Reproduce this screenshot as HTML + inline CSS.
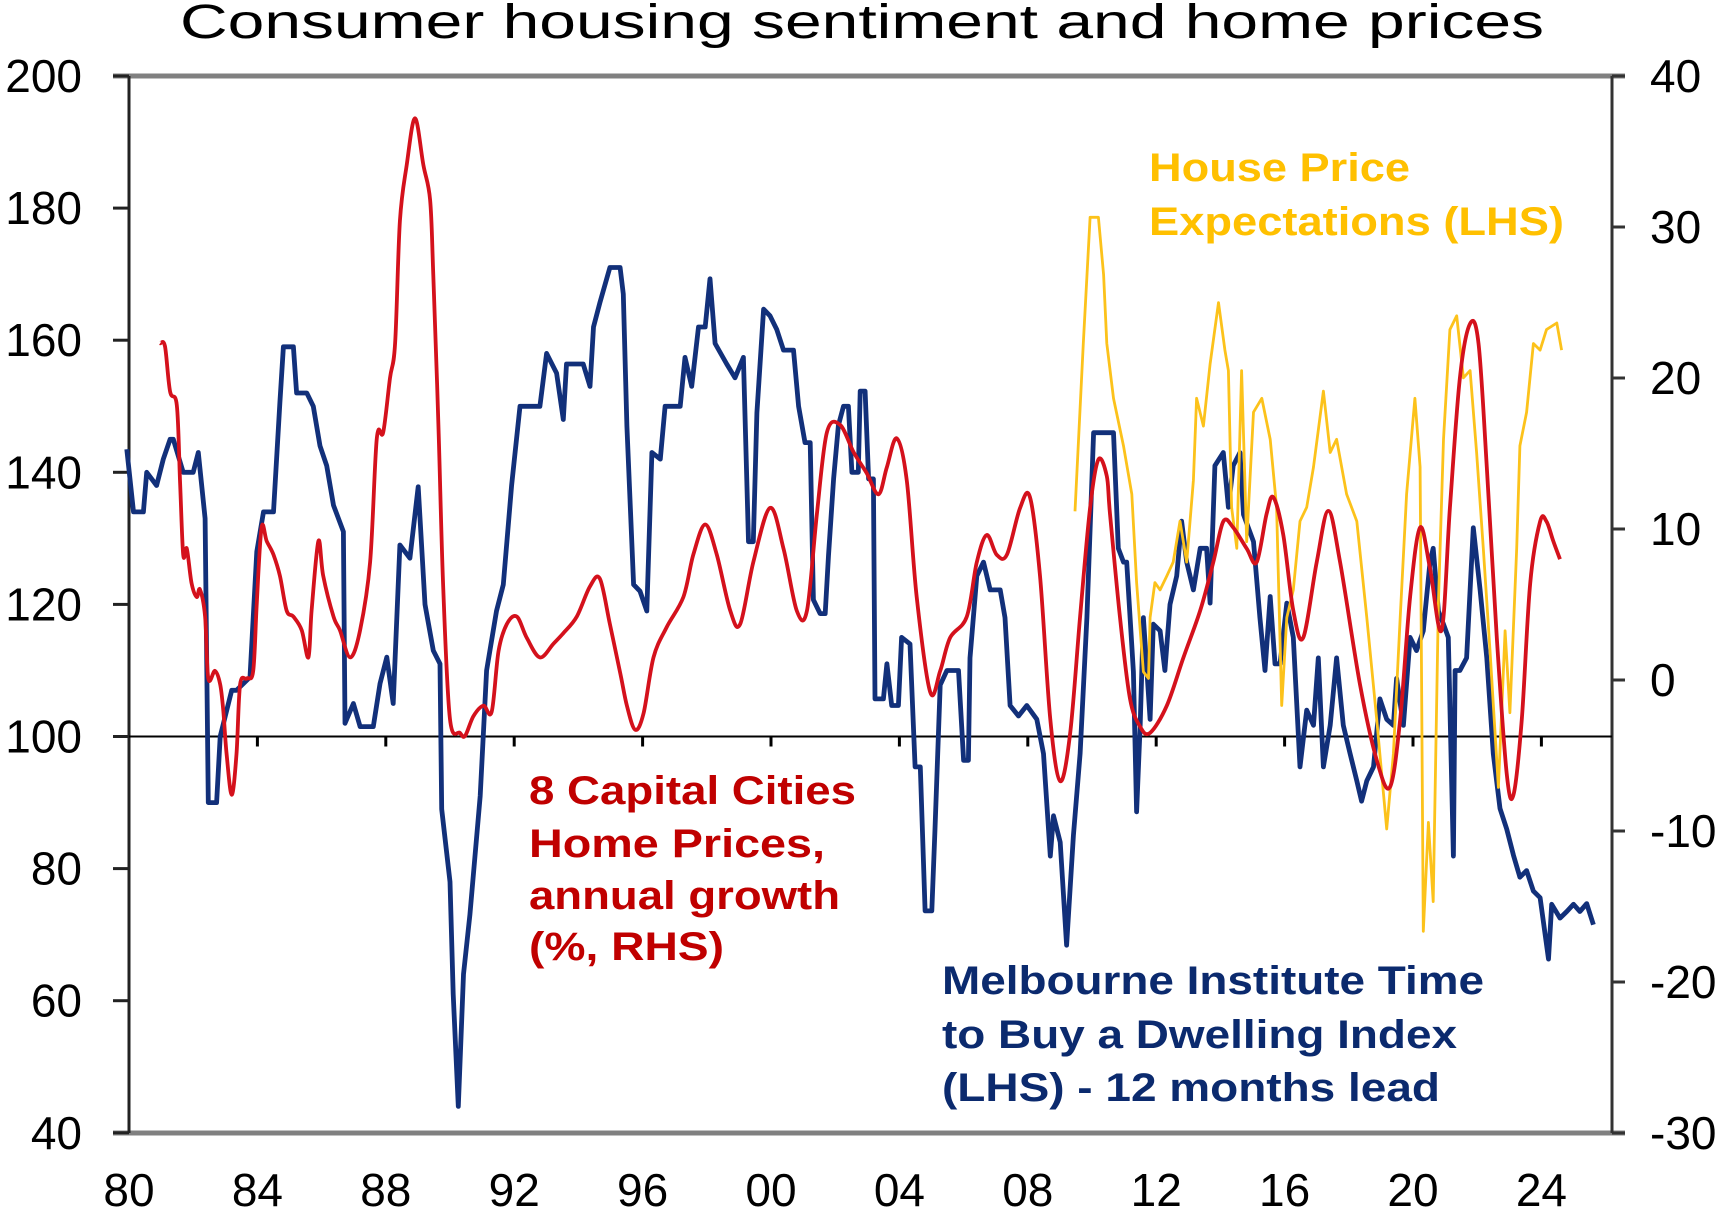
<!DOCTYPE html>
<html>
<head>
<meta charset="utf-8">
<style>
html,body{margin:0;padding:0;background:#fff;}
svg{display:block;font-family:"Liberation Sans",Arial,sans-serif;}
</style>
</head>
<body>
<svg id="chart" width="1721" height="1218" viewBox="0 0 1721 1218" xmlns="http://www.w3.org/2000/svg">
  <rect x="0" y="0" width="1721" height="1218" fill="#fff"/>
  <text x="862" y="38" text-anchor="middle" font-size="48" textLength="1364" lengthAdjust="spacingAndGlyphs" fill="#000">Consumer housing sentiment and home prices</text>
  <g id="axes"></g>
  <g id="series"></g>
  <g id="labels">
    <text x="529" y="804" font-size="40" font-weight="bold" fill="#c00000" textLength="327" lengthAdjust="spacingAndGlyphs">8 Capital Cities</text>
    <text x="529" y="857" font-size="40" font-weight="bold" fill="#c00000" textLength="296" lengthAdjust="spacingAndGlyphs">Home Prices,</text>
    <text x="529" y="909" font-size="40" font-weight="bold" fill="#c00000" textLength="311" lengthAdjust="spacingAndGlyphs">annual growth</text>
    <text x="529" y="960" font-size="40" font-weight="bold" fill="#c00000" textLength="195" lengthAdjust="spacingAndGlyphs">(%, RHS)</text>
    <text x="1149" y="181" font-size="40" font-weight="bold" fill="#ffc000" textLength="261" lengthAdjust="spacingAndGlyphs">House Price</text>
    <text x="1149" y="235" font-size="40" font-weight="bold" fill="#ffc000" textLength="415" lengthAdjust="spacingAndGlyphs">Expectations (LHS)</text>
    <text x="942" y="994" font-size="40" font-weight="bold" fill="#0b2a6e" textLength="542" lengthAdjust="spacingAndGlyphs">Melbourne Institute Time</text>
    <text x="942" y="1048" font-size="40" font-weight="bold" fill="#0b2a6e" textLength="515" lengthAdjust="spacingAndGlyphs">to Buy a Dwelling Index</text>
    <text x="942" y="1101" font-size="40" font-weight="bold" fill="#0b2a6e" textLength="498" lengthAdjust="spacingAndGlyphs">(LHS) - 12 months lead</text>
  </g>
</svg>
<script>
// ---- data ----
const leftTicks = [200,180,160,140,120,100,80,60,40];
const rightTicks = [40,30,20,10,0,-10,-20,-30];
const xTickYears = [1980,1984,1988,1992,1996,2000,2004,2008,2012,2016,2020,2024];
const xTickLabels = ["80","84","88","92","96","00","04","08","12","16","20","24"];

const blueYears = [1979.93,1980.14,1980.45,1980.55,1980.86,1981.07,1981.28,1981.38,1981.69,1982.0,1982.16,1982.37,1982.47,1982.73,1982.84,1983.2,1983.35,1983.77,1983.98,1984.19,1984.5,1984.7,1984.81,1985.12,1985.22,1985.54,1985.74,1985.95,1986.16,1986.37,1986.68,1986.73,1986.99,1987.2,1987.61,1987.82,1988.03,1988.23,1988.44,1988.75,1989.01,1989.22,1989.48,1989.69,1989.74,1990.0,1990.1,1990.26,1990.42,1990.62,1990.94,1991.14,1991.45,1991.66,1991.92,1992.18,1992.8,1993.01,1993.32,1993.53,1993.63,1994.15,1994.36,1994.47,1994.67,1994.98,1995.3,1995.4,1995.51,1995.72,1995.92,1996.13,1996.29,1996.55,1996.7,1997.17,1997.32,1997.53,1997.74,1997.95,1998.1,1998.26,1998.62,1998.88,1999.14,1999.3,1999.45,1999.56,1999.77,1999.97,2000.18,2000.39,2000.7,2000.86,2001.06,2001.22,2001.32,2001.53,2001.69,2001.79,2001.95,2002.1,2002.26,2002.41,2002.52,2002.72,2002.78,2002.93,2003.04,2003.19,2003.24,2003.5,2003.61,2003.76,2003.97,2004.07,2004.33,2004.49,2004.65,2004.8,2005.01,2005.11,2005.27,2005.48,2005.84,2006.0,2006.15,2006.2,2006.41,2006.62,2006.83,2007.14,2007.29,2007.45,2007.71,2007.97,2008.28,2008.49,2008.7,2008.8,2009.01,2009.21,2009.42,2009.63,2009.84,2010.05,2010.46,2010.67,2010.82,2010.98,2011.08,2011.29,2011.39,2011.5,2011.6,2011.81,2011.91,2012.12,2012.27,2012.43,2012.64,2012.79,2012.95,2013.16,2013.37,2013.57,2013.68,2013.83,2014.09,2014.25,2014.4,2014.61,2014.72,2015.03,2015.23,2015.39,2015.55,2015.7,2015.86,2016.07,2016.27,2016.48,2016.69,2016.9,2017.05,2017.21,2017.42,2017.62,2017.83,2018.04,2018.25,2018.4,2018.56,2018.77,2018.97,2019.18,2019.39,2019.49,2019.7,2019.91,2020.11,2020.32,2020.53,2020.63,2020.79,2020.95,2021.1,2021.26,2021.31,2021.46,2021.67,2021.88,2022.09,2022.3,2022.5,2022.71,2022.92,2023.13,2023.33,2023.54,2023.75,2023.96,2024.22,2024.32,2024.58,2024.79,2025.0,2025.2,2025.41,2025.62];
const blueValues = [143.5,134,134,140,138,142,145,145,140,140,143,133,90,90,100,107,107,109,128,134,134,150.6,159,159,152,152,150,144,141,135,131,102,105,101.5,101.5,108,112,105,129,127,137.8,120,113,111,89,78,61,44,64,73,91,110,119,123,138,150,150,158,155,148,156.4,156.4,153,162,165.7,171,171,167,147,123,122,119,143,142,150,150,157.4,153,162,162,169.3,159.5,156.4,154.3,157.4,129.5,129.5,149,164.7,163.7,161.6,158.5,158.5,150,144.5,144.5,120.7,118.6,118.6,127.4,139,147.1,150,150,140,140,152.3,152.3,139,139,105.7,105.7,111,104.7,104.7,115,114,95.4,95.4,73.6,73.6,86,107.8,110,110,96.4,96.4,111.9,124.3,126.4,122.2,122.2,118,104.7,103.1,104.7,102.6,97.4,81.9,88,84,68.4,85,97.4,118,146,146,146,128.5,126.4,126.4,109.8,88.6,101.8,118,102.6,117,116,110,120,124.3,132.6,126.4,122.2,128.5,128.5,120.2,141,143,134.7,141,143,133.6,129.5,118,110,121.2,111,111,120.2,115,95.4,104,101.7,111.9,95.4,101.7,111.9,101.7,97.4,93.3,90.2,93.3,95.4,105.7,102.6,101.7,108.8,101.7,115,113,116,126.4,128.5,119,117,115,81.9,110,110,111.9,131.6,122.2,111.9,97.4,89.1,86,82,78.7,79.7,76.6,75.6,66.3,74.6,72.5,73.5,74.6,73.5,74.7,71.5];

const redYears = [1980.97,1981.12,1981.28,1981.49,1981.59,1981.69,1981.8,1981.95,1982.11,1982.21,1982.37,1982.47,1982.68,1982.84,1982.94,1983.04,1983.2,1983.35,1983.46,1983.67,1983.87,1983.98,1984.13,1984.29,1984.5,1984.7,1984.91,1985.12,1985.38,1985.59,1985.69,1985.9,1986.05,1986.37,1986.57,1986.89,1987.2,1987.51,1987.72,1987.92,1988.13,1988.29,1988.44,1988.65,1988.91,1989.17,1989.38,1989.48,1989.64,1989.79,1990.0,1990.31,1990.47,1990.73,1991.04,1991.3,1991.51,1991.77,1992.08,1992.39,1992.8,1993.22,1993.53,1993.95,1994.36,1994.67,1994.98,1995.3,1995.51,1995.77,1996.03,1996.34,1996.75,1997.27,1997.58,1997.95,1998.31,1998.73,1999.04,1999.45,1999.97,2000.39,2000.8,2001.12,2001.43,2001.74,2002.15,2002.57,2002.98,2003.35,2003.61,2003.92,2004.23,2004.54,2004.96,2005.27,2005.58,2006.1,2006.41,2006.72,2007.03,2007.35,2007.76,2008.07,2008.38,2008.7,2009.01,2009.32,2009.63,2009.94,2010.2,2010.46,2010.56,2010.87,2011.18,2011.5,2011.81,2012.33,2012.85,2013.37,2013.78,2014.09,2014.4,2014.82,2015.13,2015.44,2015.65,2015.96,2016.27,2016.58,2017.0,2017.36,2017.73,2018.35,2018.87,2019.28,2019.6,2019.91,2020.22,2020.53,2020.89,2021.15,2021.46,2021.78,2022.04,2022.3,2022.61,2022.92,2023.13,2023.39,2023.65,2023.96,2024.16,2024.37,2024.58];
const redValues = [22.3,22.1,19.1,18.2,13.2,8.3,8.7,6.4,5.5,6,4.2,0.1,0.6,-0.3,-2.1,-4.9,-7.6,-4.9,-0.3,0.1,0.6,5.1,10.1,9.2,8.3,6.9,4.6,4.2,3.3,1.5,4.6,9.2,6.9,4.2,3.3,1.5,3.3,7.8,16,16.4,20,22.3,30.4,34.1,37.2,34.1,31.8,26.8,16.9,6,-2.6,-3.5,-3.7,-2.4,-1.7,-2.1,1.9,3.7,4.2,2.8,1.5,2.4,3.1,4.2,6.2,6.7,3.7,0.5,-1.7,-3.3,-2.2,1.5,3.5,5.5,8.3,10.3,8.3,4.6,3.7,7.8,11.4,8.7,4.6,4.6,11,16.4,16.9,15.1,13.7,12.3,14.1,16,13.2,5.5,-0.8,0.6,2.8,4.2,7.8,9.6,8.3,8.3,11.4,12.1,6.9,-2.6,-6.7,-3.5,4.2,11.4,14.6,13.5,11,4.2,-1.2,-3.1,-3.5,-1.7,1.5,4.6,7.8,10.5,10.1,8.7,7.8,11,12.1,9.6,4.6,2.8,7.8,11.2,7.8,-0.3,-5.3,-7.1,-2.6,5.5,10.1,7.4,3.3,11.4,20,23.6,22.3,14.1,2.8,-6.2,-7.6,-2.6,6.4,10.5,10.5,9.2,8];

const yellowYears = [2009.47,2009.73,2009.94,2010.2,2010.36,2010.46,2010.67,2010.98,2011.24,2011.39,2011.6,2011.76,2011.81,2011.96,2012.12,2012.33,2012.53,2012.74,2012.95,2013.16,2013.26,2013.47,2013.68,2013.94,2014.14,2014.25,2014.35,2014.51,2014.66,2014.82,2015.03,2015.29,2015.55,2015.75,2015.91,2016.07,2016.27,2016.48,2016.69,2016.9,2017.21,2017.42,2017.62,2017.93,2018.25,2018.56,2018.87,2019.18,2019.39,2019.6,2019.8,2020.06,2020.22,2020.32,2020.48,2020.63,2020.79,2020.95,2021.15,2021.36,2021.57,2021.78,2021.98,2022.19,2022.4,2022.66,2022.87,2023.02,2023.23,2023.33,2023.54,2023.75,2023.96,2024.16,2024.48,2024.63];
const yellowValues = [134.1,159.5,178.6,178.6,169.9,159.5,151.2,144,136.7,123.3,109.8,108.8,118,123.3,122.2,124.3,126.4,132.6,126.4,138.8,151.2,147,156.4,165.7,158.5,155.4,134.7,128.5,155.4,129.5,149.1,151.2,145,134.7,104.7,118,122.2,132.6,134.7,140.8,152.3,143,145,136.7,132.6,118,102.6,86,97.4,118,136.7,151.2,140.8,70.5,87,75,120.2,145,161.6,163.7,154.3,155.4,143,128.5,113,92.3,116,103.6,128.5,144,149.1,159.5,158.5,161.6,162.6,158.5];

// ---- scales ----
const X0 = 129, PXY = 32.1;
function xScale(yr){ return X0 + (yr - 1980) * PXY; }
function yLeft(v){ return 76 + (200 - v) * 6.605; }
function yRight(v){ return 680 - v * 15.1; }
const NS = "http://www.w3.org/2000/svg";
function mk(tag, attrs, parent){
  const e = document.createElementNS(NS, tag);
  for (const k in attrs) e.setAttribute(k, attrs[k]);
  parent.appendChild(e);
  return e;
}
const axes = document.getElementById('axes');
const series = document.getElementById('series');
const LEFT = 129, RIGHT = 1612, TOP = 76, BOTTOM = 1133;

let el = mk('line', {x1:113, y1:TOP, x2:1625, y2:TOP, stroke:'#808080', 'stroke-width':5}, axes);


el = mk('line', {x1:113, y1:BOTTOM, x2:1625, y2:BOTTOM, stroke:'#808080', 'stroke-width':5}, axes);


el = mk('line', {x1:LEFT, y1:TOP, x2:LEFT, y2:BOTTOM, stroke:'#222', 'stroke-width':3}, axes);


el = mk('line', {x1:RIGHT, y1:TOP, x2:RIGHT, y2:BOTTOM, stroke:'#333', 'stroke-width':3}, axes);


el = mk('line', {x1:LEFT, y1:yLeft(100), x2:RIGHT, y2:yLeft(100), stroke:'#000', 'stroke-width':2}, axes);



leftTicks.forEach(v => {
  const y = yLeft(v);
  const t = mk('line', {x1:113, y1:y, x2:LEFT, y2:y, stroke:'#222', 'stroke-width':3}, axes);
  
  
  const l = mk('text', {x:82, y:y+16, 'text-anchor':'end', 'font-size':46, fill:'#000'}, axes);
  l.textContent = String(v);
  
  
});
rightTicks.forEach(v => {
  const y = yRight(v);
  const t = mk('line', {x1:RIGHT, y1:y, x2:1625, y2:y, stroke:'#333', 'stroke-width':3}, axes);
  
  
  const l = mk('text', {x:1650, y:y+16, 'font-size':46, fill:'#000'}, axes);
  l.textContent = String(v);
  
  
});
xTickYears.forEach((yr, i) => {
  const x = xScale(yr);
  if (i > 0) {
    const t = mk('line', {x1:x, y1:yLeft(100), x2:x, y2:yLeft(100)+10, stroke:'#000', 'stroke-width':3}, axes);
    
    
  }
  const l = mk('text', {x:x, y:1206, 'text-anchor':'middle', 'font-size':46, fill:'#000'}, axes);
  l.textContent = xTickLabels[i];
  
  
});

function path(years, vals, yf){
  return years.map((yr, i) => (i ? 'L' : 'M') + xScale(yr).toFixed(1) + ',' + yf(vals[i]).toFixed(1)).join(' ');
}
function smoothPath(years, vals, yf){
  const pts = years.map((yr, i) => [xScale(yr), yf(vals[i])]);
  let d = 'M' + pts[0][0].toFixed(1) + ',' + pts[0][1].toFixed(1);
  for (let i = 0; i < pts.length - 1; i++) {
    const p0 = pts[Math.max(0, i-1)], p1 = pts[i], p2 = pts[i+1], p3 = pts[Math.min(pts.length-1, i+2)];
    const c1x = p1[0] + (p2[0]-p0[0])/6, c1y = p1[1] + (p2[1]-p0[1])/6;
    const c2x = p2[0] - (p3[0]-p1[0])/6, c2y = p2[1] - (p3[1]-p1[1])/6;
    d += ' C' + c1x.toFixed(1) + ',' + c1y.toFixed(1) + ' ' + c2x.toFixed(1) + ',' + c2y.toFixed(1) + ' ' + p2[0].toFixed(1) + ',' + p2[1].toFixed(1);
  }
  return d;
}
let p = mk('path', {d:path(blueYears, blueValues, yLeft), fill:'none', stroke:'#12307a', 'stroke-width':4.8, 'stroke-linejoin':'round'}, series);


p = mk('path', {d:path(yellowYears, yellowValues, yLeft), fill:'none', stroke:'#fcc21b', 'stroke-width':2.8, 'stroke-linejoin':'round'}, series);


p = mk('path', {d:smoothPath(redYears, redValues, yRight), fill:'none', stroke:'#d4111c', 'stroke-width':3.8, 'stroke-linejoin':'round'}, series);


</script>
</body>
</html>
